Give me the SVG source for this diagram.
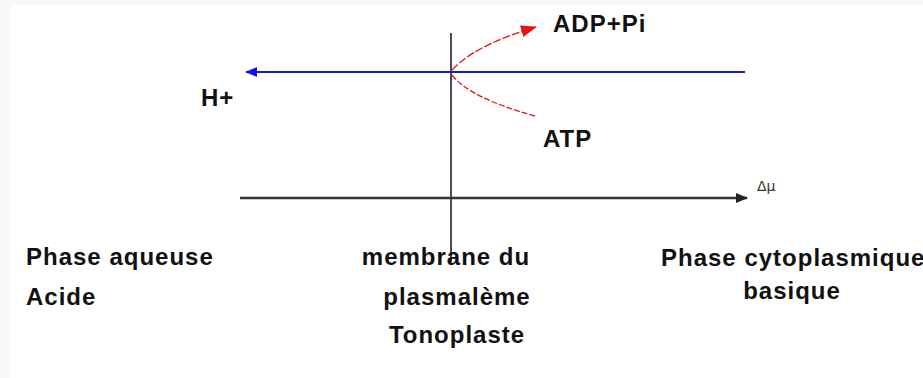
<svg xmlns="http://www.w3.org/2000/svg" width="923" height="378" viewBox="0 0 923 378">
<defs>
<style>
.t{font-family:"Liberation Sans",Arial,sans-serif;font-weight:bold;font-size:24px;letter-spacing:1px;fill:#111}
</style>
<marker id="ab" markerWidth="12" markerHeight="10" refX="11" refY="5" orient="auto" markerUnits="userSpaceOnUse"><path d="M0,0 L12,5 L0,10 Z" fill="#1010e0"/></marker>
<marker id="ak" markerWidth="12" markerHeight="10" refX="11" refY="5" orient="auto" markerUnits="userSpaceOnUse"><path d="M0,0 L12,5 L0,10 Z" fill="#222"/></marker>
<marker id="ar" markerWidth="16" markerHeight="12" refX="15" refY="6" orient="auto" markerUnits="userSpaceOnUse"><path d="M0,0 L16,6 L0,12 Z" fill="#e81010"/></marker>
</defs>
<rect x="0" y="0" width="923" height="378" fill="#f7f7f7"/>
<rect x="10" y="5" width="913" height="373" fill="#fff"/>
<g id="connectors">
<line id="membrane" x1="451" y1="33" x2="451" y2="262" stroke="#111" stroke-width="1.5"/>
<line id="proton" x1="745" y1="72" x2="246" y2="72" stroke="#1a1ad0" stroke-width="2" marker-end="url(#ab)"/>
<line id="axis" x1="240" y1="198" x2="747" y2="198" stroke="#333" stroke-width="2.5" marker-end="url(#ak)"/>
<path id="adp" d="M452,70 Q475,45 536,27" fill="none" stroke="#e81010" stroke-width="1.3" stroke-dasharray="8,2" marker-end="url(#ar)"/>
<path id="atp" d="M452,75 Q470,98 535,116" fill="none" stroke="#e81010" stroke-width="1.3" stroke-dasharray="6,2"/>
</g>
<g id="n-adp"><text class="t" x="553" y="32">ADP+Pi</text></g>
<g id="n-h"><text class="t" x="201" y="106">H+</text></g>
<g id="n-atp"><text class="t" x="543" y="147">ATP</text></g>
<g id="n-dmu"><text x="757" y="191" style="font-family:'DejaVu Sans',sans-serif;font-size:14px;fill:#333">Δμ</text></g>
<g id="n-aq"><text class="t" x="26" y="265">Phase aqueuse</text><text class="t" x="26" y="305">Acide</text></g>
<g id="n-mem"><text class="t" text-anchor="middle" x="446" y="265">membrane du</text><text class="t" text-anchor="middle" x="457" y="305">plasmalème</text><text class="t" text-anchor="middle" x="457" y="343">Tonoplaste</text></g>
<g id="n-cyto"><text class="t" x="661" y="266">Phase cytoplasmique</text><text class="t" text-anchor="middle" x="792" y="299">basique</text></g>
</svg>
